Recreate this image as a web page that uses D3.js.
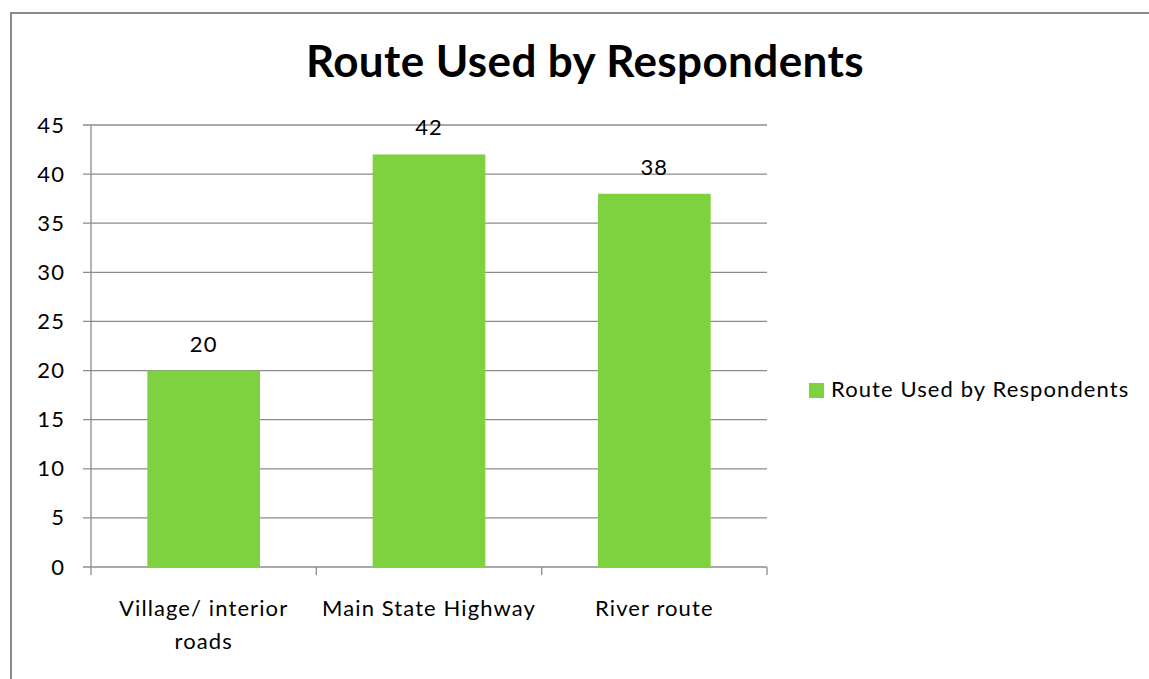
<!DOCTYPE html>
<html><head><meta charset="utf-8">
<script src="https://cdn.jsdelivr.net/npm/d3@7"></script>
<style>body{margin:0;background:#fff;} svg{display:block;}</style>
</head><body>
<svg id="c" width="1149" height="679"></svg>
<script>
const categories = [["Village/ interior","roads"],["Main State Highway"],["River route"]];
const values = [20, 42, 38];
const yTicks = [0,5,10,15,20,25,30,35,40,45];
const title = "Route Used by Respondents";
const seriesName = "Route Used by Respondents";
const barColor = "#7ed23f";
const gridColor = "#8c8c8c";
const font = "Lato, 'Open Sans', sans-serif";

(function(){
const svg = d3.select("#c");
svg.append("path").attr("d","M11,679 V13 H1149").attr("fill","none").attr("stroke","#8a8a8a").attr("stroke-width",2);

const pL=91, pR=767, pT=125, pB=567;
const fs = 22, ls = 1.1;
const x = d3.scaleBand().domain(d3.range(values.length)).range([pL,pR]).paddingInner(0.5).paddingOuter(0.25);
const y = d3.scaleLinear().domain([0,45]).range([pB,pT]);

svg.append("g").selectAll("line").data(yTicks).join("line")
  .attr("x1",pL-8).attr("x2",pR).attr("y1",d=>y(d)).attr("y2",d=>y(d))
  .attr("stroke",gridColor).attr("stroke-width",1.3);
svg.append("line").attr("x1",pL).attr("x2",pL).attr("y1",pT).attr("y2",pB).attr("stroke",gridColor).attr("stroke-width",1.3);
const step = (pR-pL)/values.length;
svg.append("g").selectAll("line").data(d3.range(values.length+1)).join("line")
  .attr("x1",d=>pL+d*step).attr("x2",d=>pL+d*step).attr("y1",pB).attr("y2",pB+8)
  .attr("stroke",gridColor).attr("stroke-width",1.3);
svg.append("g").selectAll("text").data(yTicks).join("text")
  .attr("x",pL-26).attr("y",d=>y(d)+7.5).attr("text-anchor","end")
  .attr("font-family",font).attr("font-size",fs).attr("letter-spacing",ls).attr("fill","#000").text(d=>d);
svg.append("g").selectAll("rect").data(values).join("rect")
  .attr("x",(d,i)=>x(i)).attr("width",x.bandwidth()).attr("y",d=>y(d)).attr("height",d=>pB-y(d))
  .attr("fill",barColor);
svg.append("g").selectAll("text").data(values).join("text")
  .attr("x",(d,i)=>x(i)+x.bandwidth()/2).attr("y",d=>y(d)-19).attr("text-anchor","middle")
  .attr("font-family",font).attr("font-size",fs).attr("letter-spacing",ls).attr("fill","#000").text(d=>d);
const cl = svg.append("g").selectAll("text").data(categories).join("text")
  .attr("x",(d,i)=>x(i)+x.bandwidth()/2).attr("y",616).attr("text-anchor","middle")
  .attr("font-family",font).attr("font-size",fs).attr("letter-spacing",ls).attr("fill","#000");
cl.each(function(d,i){
  const t=d3.select(this);
  d.forEach((line,j)=>t.append("tspan").attr("x",x(i)+x.bandwidth()/2).attr("dy",j?33:0).text(line));
});
svg.append("text").attr("x",585).attr("y",77).attr("text-anchor","middle")
  .attr("font-family",font).attr("font-weight","bold").attr("font-size",44).attr("letter-spacing",0.4).attr("fill","#000").text(title);
svg.append("rect").attr("x",809).attr("y",383).attr("width",15).attr("height",15).attr("fill",barColor);
svg.append("text").attr("x",831).attr("y",397)
  .attr("font-family",font).attr("font-size",fs).attr("letter-spacing",ls).attr("fill","#000").text(seriesName);
})();
</script>
</body></html>
